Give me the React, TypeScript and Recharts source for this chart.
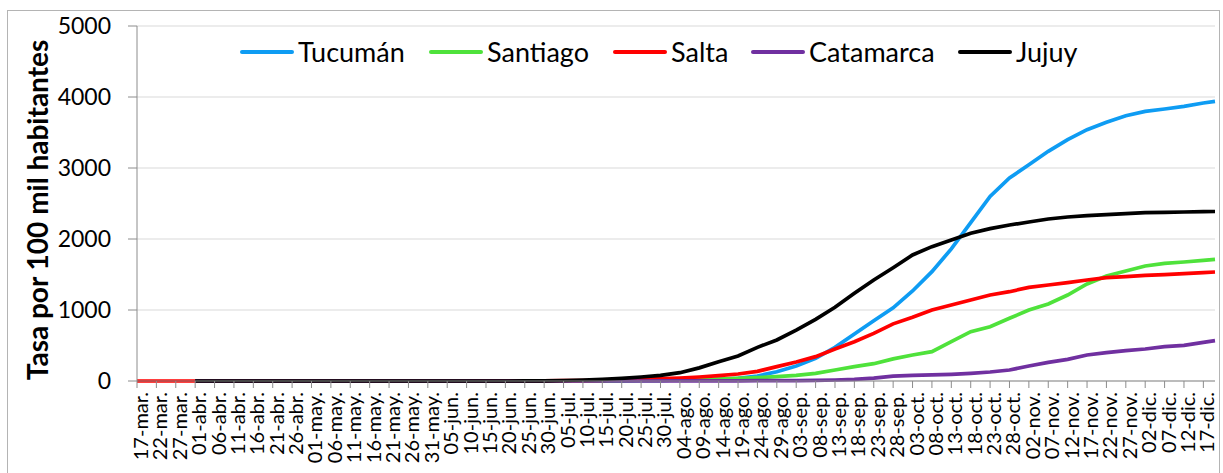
import React from "react";
import { LineChart, Line, XAxis, YAxis, CartesianGrid, Legend } from "recharts";

// fechas de los ticks (cada 5 días desde el 17-mar)
const dateLabels = [
  "17-mar.", "22-mar.", "27-mar.", "01-abr.", "06-abr.", "11-abr.", "16-abr.", "21-abr.", "26-abr.",
  "01-may.", "06-may.", "11-may.", "16-may.", "21-may.", "26-may.", "31-may.", "05-jun.", "10-jun.",
  "15-jun.", "20-jun.", "25-jun.", "30-jun.", "05-jul.", "10-jul.", "15-jul.", "20-jul.", "25-jul.",
  "30-jul.", "04-ago.", "09-ago.", "14-ago.", "19-ago.", "24-ago.", "29-ago.", "03-sep.", "08-sep.",
  "13-sep.", "18-sep.", "23-sep.", "28-sep.", "03-oct.", "08-oct.", "13-oct.", "18-oct.", "23-oct.",
  "28-oct.", "02-nov.", "07-nov.", "12-nov.", "17-nov.", "22-nov.", "27-nov.", "02-dic.", "07-dic.",
  "12-dic.", "17-dic.",
];

// día desde el 17-mar de cada punto (el último es el 20-dic)
const dayNumbers = [
  0, 5, 10, 15, 20, 25, 30, 35, 40, 45, 50, 55, 60, 65, 70, 75, 80, 85, 90, 95,
  100, 105, 110, 115, 120, 125, 130, 135, 140, 145, 150, 155, 160, 165, 170, 175, 180, 185, 190, 195,
  200, 205, 210, 215, 220, 225, 230, 235, 240, 245, 250, 255, 260, 265, 270, 275, 278,
];
const tickDays = dayNumbers.slice(0, dateLabels.length);

const tucuman = [
  null, null, null, 0, 0, 0, 0, 0, 0, 0,
  0, 0, 0, 0, 0, 0, 0, 0, 0, 0,
  1, 1, 2, 3, 4, 6, 8, 10, 14, 18,
  25, 38, 70, 131, 211, 319, 474, 662, 850, 1030,
  1268, 1540, 1861, 2230, 2600, 2859, 3047, 3235, 3399, 3540,
  3643, 3737, 3798, 3831, 3869, 3916, 3939,
];
const santiago = [
  null, null, null, 0, 0, 0, 0, 0, 0, 0,
  0, 0, 0, 0, 0, 0, 0, 0, 0, 0,
  0, 0, 1, 2, 3, 5, 7, 10, 14, 20,
  28, 38, 47, 61, 80, 108, 155, 202, 244, 312,
  366, 413, 554, 695, 765, 883, 1000, 1085, 1211, 1366,
  1479, 1549, 1620, 1657, 1676, 1700, 1714,
];
const salta = [
  0, 0, 0, 0, 0, 0, 0, 0, 0, 0,
  0, 0, 0, 0, 0, 0, 0, 0, 1, 1,
  2, 3, 4, 5, 10, 19, 25, 33, 42, 56,
  75, 99, 136, 202, 268, 343, 451, 554, 671, 805,
  897, 1000, 1070, 1141, 1211, 1258, 1319, 1352, 1385, 1423,
  1455, 1470, 1488, 1498, 1512, 1526, 1535,
];
const catamarca = [
  null, null, null, 0, 0, 0, 0, 0, 0, 0,
  0, 0, 0, 0, 0, 0, 0, 0, 0, 0,
  0, 0, 0, 0, 0, 0, 0, 1, 2, 2,
  3, 3, 4, 5, 6, 8, 14, 22, 40, 68,
  80, 85, 94, 108, 127, 155, 211, 263, 305, 366,
  399, 427, 451, 484, 502, 545, 568,
];
const jujuy = [
  null, null, null, 0, 0, 0, 0, 0, 0, 0,
  0, 0, 0, 0, 0, 0, 0, 0, 0, 0,
  1, 3, 7, 14, 23, 38, 56, 80, 117, 185,
  272, 352, 474, 578, 718, 869, 1038, 1235, 1423, 1595,
  1775, 1892, 1986, 2080, 2146, 2197, 2239, 2282, 2310, 2329,
  2343, 2357, 2371, 2376, 2380, 2385, 2387,
];

const seriesKeys = ["tucuman", "santiago", "salta", "catamarca", "jujuy"];
const seriesNames = ["Tucumán", "Santiago", "Salta", "Catamarca", "Jujuy"];
const seriesColors = ["#0e9cf3", "#4fe23b", "#ff0000", "#7030a0", "#000000"];
const yTicks = [0, 1000, 2000, 3000, 4000, 5000];

const data = dayNumbers.map((day, i) => ({
  day,
  tucuman: tucuman[i],
  santiago: santiago[i],
  salta: salta[i],
  catamarca: catamarca[i],
  jujuy: jujuy[i],
}));

const FONT = "Lato, 'Open Sans', sans-serif";
const AXIS_GRAY = "#8c8c8c";
// ancho de cada entrada de la leyenda (muestra + texto + separación)
const legendItemWidths = [189, 184, 138, 207, 120];

function DateTick({ x, y, payload }: { x?: number; y?: number; payload?: { value: number } }) {
  const label = dateLabels[Math.round((payload?.value ?? 0) / 5)];
  const tx = (x ?? 0) + 11;
  const ty = (y ?? 0) + 2;
  return (
    <text
      x={tx}
      y={ty}
      transform={`rotate(-90 ${tx} ${ty})`}
      textAnchor="end"
      fontFamily={FONT}
      fontSize={20}
      fill="#000"
    >
      {label}
    </text>
  );
}

const renderYTitle = () => (
  <text
    x={48}
    y={210}
    transform="rotate(-90 48 210)"
    textAnchor="middle"
    fontFamily={FONT}
    fontWeight={700}
    fontSize={28}
    fill="#000"
  >
    Tasa por 100 mil habitantes
  </text>
);

const renderLegend = () => (
  <div style={{ display: "flex", alignItems: "center", fontFamily: FONT, fontSize: 27, color: "#000", whiteSpace: "nowrap", lineHeight: "32px" }}>
    {seriesNames.map((name, i) => (
      <div key={name} style={{ display: "flex", alignItems: "center", width: legendItemWidths[i] }}>
        <span style={{ display: "inline-block", width: 54, height: 4, borderRadius: 2, background: seriesColors[i], marginRight: 4 }} />
        <span>{name}</span>
      </div>
    ))}
  </div>
);

export default function App() {
  return (
    <div style={{ position: "relative", width: 1223, height: 473, background: "#fff", overflow: "hidden" }}>
      <style>{"body{margin:0}"}</style>
      <div style={{ position: "absolute", left: 7, top: 10, width: 1211, height: 480, border: "1px solid #b4b4b4", pointerEvents: "none" }} />
      <LineChart width={1223} height={473} data={data} margin={{ top: 26, right: 8, left: 0, bottom: 0 }}>
        <CartesianGrid vertical={false} stroke="#d9d9d9" />
        <XAxis
          dataKey="day"
          type="number"
          domain={[0, 278]}
          ticks={tickDays}
          interval={0}
          height={92}
          tickSize={7}
          stroke={AXIS_GRAY}
          tick={<DateTick />}
        />
        <YAxis
          domain={[0, 5000]}
          ticks={yTicks}
          width={137}
          tickSize={9}
          tickMargin={17}
          stroke={AXIS_GRAY}
          tick={{ fontFamily: FONT, fontSize: 23, fill: "#000" }}
          label={renderYTitle}
        />
        <Legend
          layout="horizontal"
          verticalAlign="middle"
          align="center"
          content={renderLegend}
          wrapperStyle={{ position: "absolute", top: 36, left: 240, width: "auto", height: "auto" }}
        />
        {seriesKeys.map((key, i) => (
          <Line
            key={key}
            type="linear"
            dataKey={key}
            name={seriesNames[i]}
            stroke={seriesColors[i]}
            strokeWidth={3.7}
            dot={false}
            activeDot={false}
            isAnimationActive={false}
          />
        ))}
      </LineChart>
    </div>
  );
}
